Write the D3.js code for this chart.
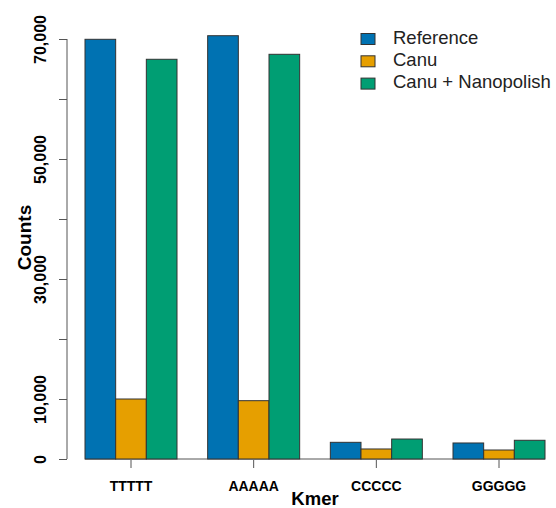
<!DOCTYPE html>
<html>
<head>
<meta charset="utf-8">
<script src="https://cdn.jsdelivr.net/npm/d3@7"></script>
<style>
  html, body { margin: 0; padding: 0; background: #fff; }
  svg { display: block; font-family: "Liberation Sans", Arial, Helvetica, sans-serif; }
</style>
</head>
<body>
<svg id="chart" width="556" height="508"></svg>
<script>
const kmers = ["TTTTT", "AAAAA", "CCCCC", "GGGGG"];
const seriesNames = ["Reference", "Canu", "Canu + Nanopolish"];
const referenceCounts = [69950, 70550, 2780, 2670];
const canuCounts = [10000, 9720, 1670, 1500];
const nanopolishCounts = [66620, 67450, 3330, 3120];
const yTicks = [0, 10000, 20000, 30000, 40000, 50000, 60000, 70000];
const yTickLabels = [0, 10000, 30000, 50000, 70000];
const colors = ["#0072B2", "#E69F00", "#009E73"];

const seriesValues = [referenceCounts, canuCounts, nanopolishCounts];

const svg = d3.select("#chart");

const x0 = d3.scaleBand().domain(kmers).range([85, 545]).paddingInner(0.25).paddingOuter(0);
const x1 = d3.scaleBand().domain(seriesNames).range([0, x0.bandwidth()]).padding(0);
const y = d3.scaleLinear().domain([0, 70000]).range([459, 39]);
const color = d3.scaleOrdinal().domain(seriesNames).range(colors);

// baseline under bars
svg.append("line")
  .attr("x1", x0.range()[0]).attr("x2", x0.range()[1])
  .attr("y1", y(0)).attr("y2", y(0))
  .attr("stroke", "#555").attr("stroke-width", 1);

// bars
const rows = [];
kmers.forEach((k, i) => seriesNames.forEach((s, j) => rows.push({k, s, v: seriesValues[j][i]})));
svg.append("g").selectAll("rect").data(rows).join("rect")
  .attr("x", d => x0(d.k) + x1(d.s))
  .attr("y", d => y(d.v))
  .attr("width", x1.bandwidth())
  .attr("height", d => y(0) - y(d.v))
  .attr("fill", d => color(d.s))
  .attr("stroke", "#333")
  .attr("stroke-width", 1);

// y axis
const yAxis = d3.axisLeft(y).tickValues(yTicks).tickSize(8).tickSizeOuter(0)
  .tickFormat(d => yTickLabels.includes(d) ? d3.format(",")(d) : "");
const gy = svg.append("g").attr("transform", "translate(67,0)").call(yAxis);
gy.select(".domain").attr("stroke", "#555").attr("d", `M0,${y(0)}V${y(70000)}`);
gy.selectAll(".tick line").attr("stroke", "#555");
gy.selectAll(".tick text")
  .attr("transform", "rotate(-90)")
  .attr("x", 0).attr("y", -21)
  .attr("dy", 0)
  .attr("text-anchor", "middle")
  .attr("font-size", 16).attr("font-weight", "bold")
  .attr("fill", "#000");

// x axis (ticks only)
const xAxis = d3.axisBottom(x0).tickSize(8).tickSizeOuter(0);
const gx = svg.append("g").attr("transform", "translate(0,460)").call(xAxis);
gx.select(".domain").remove();
gx.selectAll(".tick line").attr("stroke", "#555");
gx.selectAll(".tick text")
  .attr("y", 31).attr("dy", 0)
  .attr("font-size", 14).attr("font-weight", "bold").attr("fill", "#000");

// axis titles
svg.append("text").attr("x", 315).attr("y", 505)
  .attr("text-anchor", "middle").attr("font-size", 18.5).attr("font-weight", "bold")
  .text("Kmer");
svg.append("text").attr("transform", "translate(31,237.5) rotate(-90)")
  .attr("text-anchor", "middle").attr("font-size", 19).attr("font-weight", "bold")
  .text("Counts");

// legend
const legend = svg.append("g");
seriesNames.forEach((s, i) => {
  const by = 43.5 + i * 22.3;
  legend.append("rect").attr("x", 361).attr("y", by - 10).attr("width", 14).attr("height", 11)
    .attr("fill", color(s)).attr("stroke", "#333").attr("stroke-width", 1);
  legend.append("text").attr("x", 393).attr("y", by)
    .attr("font-size", 18.5).attr("fill", "#222").text(s);
});
</script>
</body>
</html>
